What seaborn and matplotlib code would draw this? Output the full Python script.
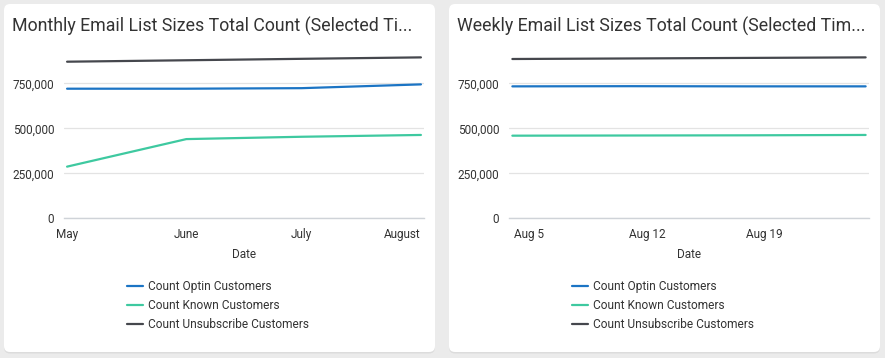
import matplotlib
matplotlib.use('Agg')
import matplotlib.pyplot as plt
import matplotlib.dates as mdates
from matplotlib.patches import FancyBboxPatch
from matplotlib.ticker import FuncFormatter
import seaborn as sns
import pandas as pd

# Datos
meses = ['2019-05-01', '2019-06-01', '2019-07-01', '2019-08-01']
mensual_optin = [720000, 720000, 723000, 744000]
mensual_known = [287000, 440000, 453000, 463000]
mensual_unsub = [870000, 878000, 886000, 894000]

semanas = ['2019-08-04', '2019-08-11', '2019-08-18', '2019-08-25']
semanal_optin = [733000, 734000, 733000, 733000]
semanal_known = [459000, 460000, 461000, 463000]
semanal_unsub = [885000, 888000, 891000, 894000]

series = ['Count Optin Customers', 'Count Known Customers', 'Count Unsubscribe Customers']
colores = {'Count Optin Customers': '#1b74c4',
           'Count Known Customers': '#3ec9a0',
           'Count Unsubscribe Customers': '#45474d'}

titulos = ['Monthly Email List Sizes Total Count (Selected Ti...',
           'Weekly Email List Sizes Total Count (Selected Tim...']
yticks = [0, 250000, 500000, 750000]
semana_ticks = ['2019-08-05', '2019-08-12', '2019-08-19']
semana_labels = ['Aug 5', 'Aug 12', 'Aug 19']

sns.set_theme(style='white')
plt.rcParams['font.family'] = ['Roboto', 'DejaVu Sans']

W, H = 885, 358
fig = plt.figure(figsize=(W / 100, H / 100), dpi=100)
fig.patch.set_facecolor('#ebebeb')

# Fondo con tarjetas
bg = fig.add_axes([0, 0, 1, 1])
bg.set_xlim(0, W)
bg.set_ylim(H, 0)
bg.axis('off')
for x0, x1 in [(4, 435), (449, 880)]:
    sombra = FancyBboxPatch((x0, 4.5), x1 - x0, 349, boxstyle='round,pad=0,rounding_size=6',
                            fc='#dcdcdc', ec='none')
    tarjeta = FancyBboxPatch((x0, 4), x1 - x0, 348, boxstyle='round,pad=0,rounding_size=6',
                             fc='white', ec='none')
    bg.add_patch(sombra)
    bg.add_patch(tarjeta)


def armar_df(fechas, optin, known, unsub):
    filas = []
    for nombre, vals in zip(series, [optin, known, unsub]):
        for f, v in zip(fechas, vals):
            filas.append({'Date': pd.Timestamp(f), 'valor': v, 'serie': nombre})
    return pd.DataFrame(filas)


def ejes(px_left):
    left = px_left / W
    bottom = (H - 218.3) / H
    height = 180 / H
    width = 360 / W
    return fig.add_axes([left, bottom, width, height])


def estilo(ax):
    ax.set_ylim(0, 1000000)
    ax.set_yticks(yticks)
    ax.yaxis.set_major_formatter(FuncFormatter(lambda v, p: f'{int(v):,}'))
    ax.grid(axis='y', color='#e3e3e3', linewidth=0.9)
    ax.grid(axis='x', visible=False)
    for s in ['top', 'right', 'left']:
        ax.spines[s].set_visible(False)
    ax.spines['bottom'].set_color('#cfd3d8')
    ax.spines['bottom'].set_linewidth(1.0)
    ax.tick_params(axis='both', length=0, labelsize=8.5, colors='#333333')
    ax.tick_params(axis='y', pad=7)
    ax.tick_params(axis='x', pad=7)
    ax.set_xlabel('Date', fontsize=8.5, color='#333333', labelpad=5)
    ax.set_ylabel('')
    handles, labels = ax.get_legend_handles_labels()
    ax.legend(handles=handles, labels=labels,
              loc='upper left', bbox_to_anchor=(63 / 360, -0.342), frameon=False,
              fontsize=8.6, handlelength=1.35, handletextpad=0.42, labelspacing=0.5,
              borderpad=0, borderaxespad=0, labelcolor='#333333')


# Grafica mensual
ax1 = ejes(64)
df1 = armar_df(meses, mensual_optin, mensual_known, mensual_unsub)
sns.lineplot(data=df1, x='Date', y='valor', hue='serie', hue_order=series,
             palette=colores, linewidth=1.6, ax=ax1)
inicio = pd.Timestamp(meses[0]) - pd.Timedelta(days=0.8)
fin = pd.Timestamp(meses[-1]) + pd.Timedelta(days=0.8)
ax1.set_xlim(inicio, fin)
ax1.set_xticks([pd.Timestamp(m) for m in meses])
ax1.xaxis.set_major_formatter(mdates.DateFormatter('%B'))
estilo(ax1)
etiquetas = ax1.get_xticklabels()
etiquetas[-1].set_horizontalalignment('right')

# Grafica semanal
ax2 = ejes(509)
df2 = armar_df(semanas, semanal_optin, semanal_known, semanal_unsub)
sns.lineplot(data=df2, x='Date', y='valor', hue='serie', hue_order=series,
             palette=colores, linewidth=1.6, ax=ax2)
inicio = pd.Timestamp(semanas[0]) - pd.Timedelta(days=0.2)
fin = pd.Timestamp(semanas[-1]) + pd.Timedelta(days=0.2)
ax2.set_xlim(inicio, fin)
ax2.set_xticks([pd.Timestamp(s) for s in semana_ticks])
ax2.set_xticklabels(semana_labels)
estilo(ax2)

# Titulos
fig.text(12 / W, 1 - 26 / H, titulos[0], fontsize=12.75, color='#333333', va='center', ha='left')
fig.text(457 / W, 1 - 26 / H, titulos[1], fontsize=12.75, color='#333333', va='center', ha='left')

fig.savefig('out.png', dpi=100, facecolor=fig.get_facecolor())
